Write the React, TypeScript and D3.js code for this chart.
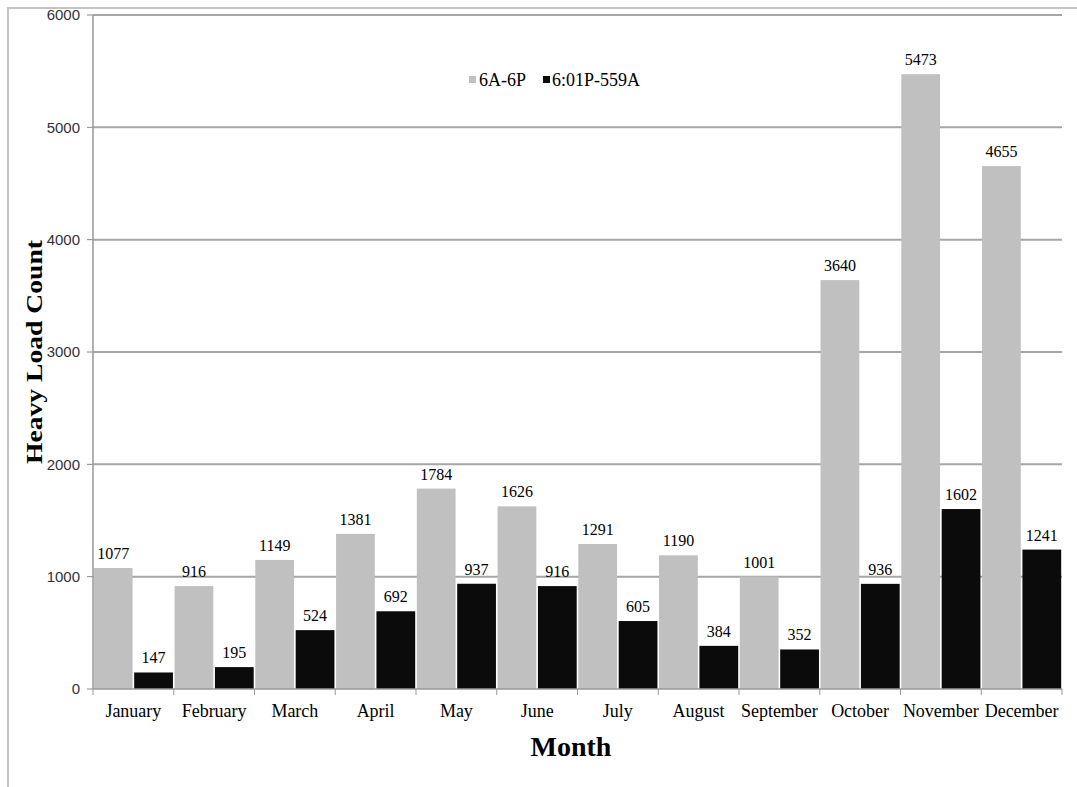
import React from 'react';
import * as d3 from 'd3';

const months = ['January', 'February', 'March', 'April', 'May', 'June', 'July', 'August', 'September', 'October', 'November', 'December'];
const dayCounts = [1077, 916, 1149, 1381, 1784, 1626, 1291, 1190, 1001, 3640, 5473, 4655];
const nightCounts = [147, 195, 524, 692, 937, 916, 605, 384, 352, 936, 1602, 1241];
const seriesNames = ['6A-6P', '6:01P-559A'];
const yTicks = [0, 1000, 2000, 3000, 4000, 5000, 6000];

const W = 1077;
const H = 787;
const margin = { top: 15, right: 15, bottom: 98, left: 93 };
const serif = '"Liberation Serif", "DejaVu Serif", serif';
const sans = '"Liberation Sans", "Open Sans", sans-serif';
const colors = ['#c0c0c0', '#0b0b0b'];

const App = () => {
  const innerW = W - margin.left - margin.right;
  const x = d3.scaleBand().domain(months).range([margin.left, margin.left + innerW]).padding(0);
  const y = d3.scaleLinear().domain([0, 6000]).range([H - margin.bottom, margin.top]);
  const sub = d3.scaleBand().domain(['0', '1']).range([0, x.bandwidth()]).paddingInner(0.04).paddingOuter(0.02);
  const series = [dayCounts, nightCounts];

  return (
    <svg width={W} height={H} style={{ position: 'absolute', left: 0, top: 0 }}>
      <rect x={8} y={8} width={W} height={H} fill="#fff" stroke="#c4c4c4" strokeWidth={2} />
      {yTicks.map(t => (
        <g key={t}>
          {t > 0 && (
            <line x1={margin.left} x2={margin.left + innerW} y1={y(t)} y2={y(t)} stroke="#a6a6a6" strokeWidth={2} />
          )}
          <line x1={margin.left - 6} x2={margin.left} y1={y(t)} y2={y(t)} stroke="#888" />
          <text x={margin.left - 13} y={y(t)} dy="0.35em" textAnchor="end" fontFamily={sans} fontSize={15} fill="#333">
            {t}
          </text>
        </g>
      ))}
      {series.map((vals, si) =>
        months.map((m, i) => {
          const bx = (x(m) as number) + (sub(String(si)) as number);
          return (
            <g key={`${si}-${m}`}>
              <rect x={bx} y={y(vals[i])} width={sub.bandwidth()} height={y(0) - y(vals[i])} fill={colors[si]} />
              <text x={bx + sub.bandwidth() / 2} y={y(vals[i]) - 9} textAnchor="middle" fontFamily={serif} fontSize={16} fill="#000">
                {vals[i]}
              </text>
            </g>
          );
        })
      )}
      <line x1={margin.left} x2={margin.left} y1={margin.top} y2={y(0)} stroke="#999" strokeWidth={1.5} />
      <line x1={margin.left} x2={margin.left + innerW} y1={y(0)} y2={y(0)} stroke="#999" strokeWidth={1.5} />
      {months.map((m, i) => (
        <g key={m}>
          <line x1={(x(m) as number) + x.bandwidth()} x2={(x(m) as number) + x.bandwidth()} y1={y(0)} y2={y(0) + 6} stroke="#999" />
          {i === 0 && <line x1={x(m) as number} x2={x(m) as number} y1={y(0)} y2={y(0) + 6} stroke="#999" />}
          <text x={(x(m) as number) + x.bandwidth() / 2} y={y(0) + 28} textAnchor="middle" fontFamily={serif} fontSize={18} fill="#000">
            {m}
          </text>
        </g>
      ))}
      <text x={571} y={756} textAnchor="middle" fontFamily={serif} fontSize={28} fontWeight="bold">Month</text>
      <text transform="translate(42,352) rotate(-90) scale(1.15,1)" textAnchor="middle" fontFamily={serif} fontSize={24} fontWeight="bold">
        Heavy Load Count
      </text>
      <g transform="translate(469,80)">
        <rect x={0} y={-4} width={7} height={7} fill={colors[0]} />
        <text x={10} y={0} dy="0.35em" fontFamily={serif} fontSize={18}>{seriesNames[0]}</text>
        <rect x={74} y={-4} width={7} height={7} fill={colors[1]} />
        <text x={83} y={0} dy="0.35em" fontFamily={serif} fontSize={18}>{seriesNames[1]}</text>
      </g>
    </svg>
  );
};

export default App;
